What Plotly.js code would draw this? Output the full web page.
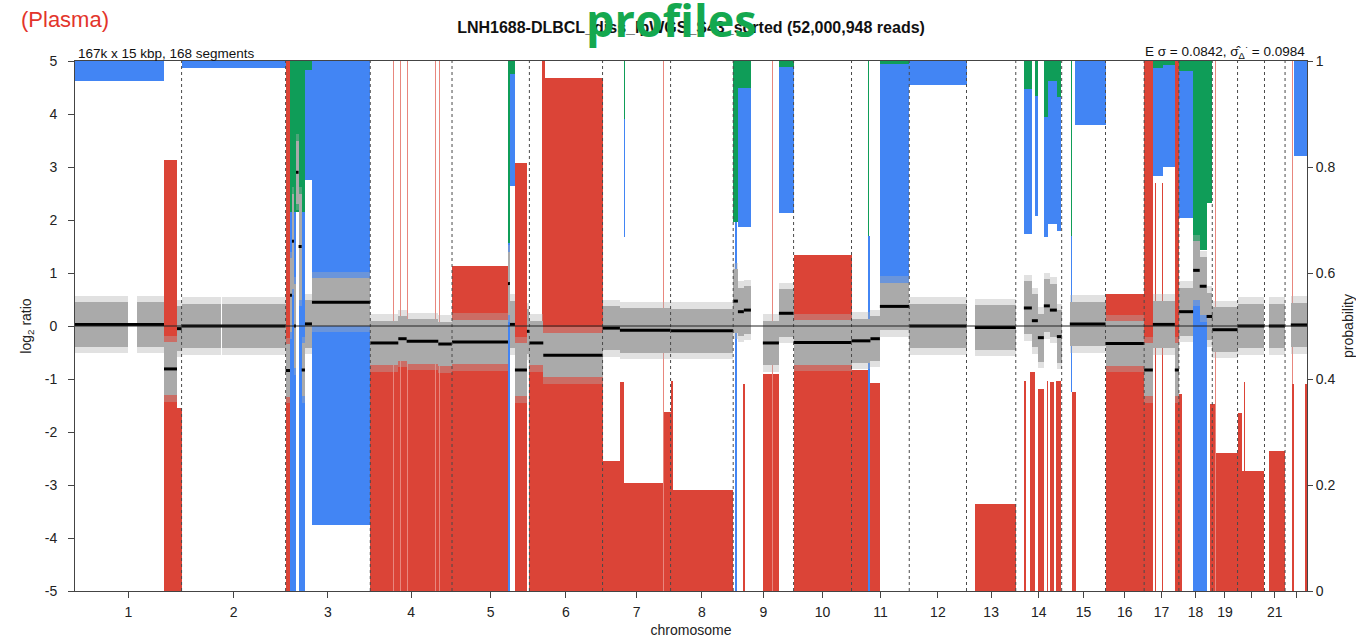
<!DOCTYPE html>
<html>
<head>
<meta charset="utf-8">
<script src="https://cdn.plot.ly/plotly-3.0.1.min.js"></script>
<style>
html,body{margin:0;padding:0;background:#ffffff;}
#chart{width:1356px;height:642px;}
</style>
</head>
<body>
<div id="chart"></div>
<script>
// ---------- chromosomes (hg19, Mb) ----------
const chromNames = ['1','2','3','4','5','6','7','8','9','10','11','12','13','14','15','16','17','18','19','20','21','22'];
const chromLengthsMb = [249.25,243.2,198.0,191.15,180.9,171.1,159.1,146.4,141.2,135.5,135.0,133.85,115.2,107.35,102.5,90.35,81.2,78.1,59.1,63.0,48.1,51.3];
const chromTickText = ['1','2','3','4','5','6','7','8','9','10','11','12','13','14','15','16','17','18','19','','21',''];

// ---------- loss probability bars (red, from 0 up), genome position in Mb ----------
const lossStart = [208.1,238.5,492.45,690.45,743.0,759.9,775.5,841.7,852.2,881.6,1028.7,1062.5,1091.8,1091.8,1233.6,1274.2,1283.6,1374.8,1374.8,1392.7,1398.1,1561.8,1608.5,1629.6,1680.3,1815.8,1858.7,2104.2,2219.5,2232.8,2250.7,2271.8,2279.6,2293.0,2331.7,2409.7,2500.05,2525.0,2541.4,2571.8,2581.25,2655.0,2665.7,2668.7,2718.45,2728.4,2733.1,2791.6,2844.9,2844.9,2876.5];
const lossEnd   = [238.5,249.25,502.7,881.6,745.3,762.2,777.8,844.0,854.5,1012.4,1056.8,1091.8,1233.6,1098.9,1274.2,1283.6,1374.8,1392.7,1377.1,1398.1,1539.1,1566.5,1646.0,1632.0,1815.8,1854.0,1882.1,2199.85,2222.8,2243.7,2265.5,2275.6,2289.7,2304.6,2339.6,2500.05,2520.4,2527.4,2543.7,2581.25,2587.5,2668.7,2668.0,2718.45,2728.4,2781.45,2735.5,2829.55,2847.2,2849.7,2880.85];
const lossProb  = [0.813,0.345,1.0,0.44,1.0,1.0,1.0,1.0,1.0,0.614,0.808,0.44,0.967,1.0,0.246,0.394,0.204,0.338,1.0,0.397,0.19,0.39,0.409,1.0,0.634,0.417,0.392,0.164,0.397,0.414,0.382,0.397,0.394,0.397,0.375,0.561,1.0,0.77,0.77,1.0,0.371,0.352,1.0,0.261,0.335,0.227,0.394,0.264,1.0,0.39,0.39];

// ---------- gain probability bars (blue) ----------
const gainStart = [0,249.25,502.7,522.8,537.7,554.1,1012.4,1017.0,1283.6,1542.9,1550.1,1646.0,1854.0,1882.1,1950.8,2219.5,2244.5,2265.5,2275.6,2295.2,2328.6,2338.0,2521.2,2544.6,2581.25,2614.6,2849.3];
const gainEnd   = [208.1,492.45,516.7,537.7,554.1,690.45,1017.0,1028.7,1285.9,1549.1,1580.5,1680.3,1858.7,1950.8,2084.65,2238.2,2250.7,2275.6,2295.2,2304.6,2331.7,2409.7,2544.6,2572.0,2614.6,2646.0,2880.5];
const gainLow   = [0.9625,0.987,0,0,0.775,0.125,0,0.764,0.667,0,0.687,0.713,0,0.572,0.954,0.673,0.708,0.667,0.693,0.68,0.375,0.88,0.783,0.80,0.703,0,0.82];
const gainHigh  = [1,1,1,1,1,1,0.657,0.976,0.89,0.696,0.949,0.989,0.67,0.995,1,0.947,0.934,0.894,0.963,0.933,0.67,1,0.986,0.992,0.982,0.565,1];

// ---------- amplification probability bars (green) ----------
const ampStart = [502.7,537.7,1012.4,1012.4,1283.6,1539.1,1550.1,1646.0,1854.0,1882.1,2219.5,2244.5,2265.5,2275.6,2295.2,2328.6,2521.2,2544.6,2581.25,2614.6,2646.0];
const ampEnd   = [537.7,554.1,1028.7,1017.0,1285.9,1550.1,1580.5,1680.3,1856.3,1950.8,2238.2,2250.7,2275.6,2295.2,2304.6,2331.7,2544.6,2572.0,2614.6,2646.0,2659.35];
const ampLow   = [0.716,0.983,0.976,0.657,0.89,0.696,0.949,0.989,0.67,0.995,0.947,0.934,0.894,0.963,0.933,0.67,0.986,0.992,0.982,0.644,0.733];
const ampHigh  = [1,1,1,0.976,1,1,1,1,1,1,1,1,1,1,1,1,1,1,1,1,1];

// ---------- segments (log2 ratio) ----------
const segStart  = [0,208.1,238.5,249.25,492.45,502.7,507.3,512.0,516.7,522.8,530.0,537.7,554.1,690.45,756,775.5,849.5,881.6,1012.4,1017.0,1028.7,1056.8,1062.5,1095,1233.6,1274.2,1392.7,1539.1,1550.1,1564,1608.5,1646.0,1680.3,1815.8,1860,1882.1,1950.8,2104.2,2218.8,2237.5,2251.5,2265.5,2279.6,2295.9,2326.3,2409.7,2500.05,2520.4,2571.8,2581.25,2614.6,2630,2646,2659.35,2718.45,2791.6,2843];
const segEnd    = [208.1,238.5,249.25,492.45,502.7,507.3,512.0,516.7,522.8,530.0,537.7,554.1,690.45,756,775.5,849.5,881.6,1012.4,1017.0,1028.7,1056.8,1062.5,1095,1233.6,1274.2,1392.7,1539.1,1550.1,1564,1580.5,1646.0,1680.3,1815.8,1860,1882.1,1950.8,2084.65,2199.85,2237.5,2251.5,2265.5,2279.6,2295.9,2307.2,2409.7,2500.05,2520.4,2571.8,2581.25,2614.6,2630,2646,2659.35,2718.45,2781.45,2829.55,2880.85];
const segMean   = [0.03,-0.81,-0.05,0.0,-0.84,0.58,1.6,0.0,2.9,1.5,-0.83,0.04,0.45,-0.32,-0.24,-0.29,-0.34,-0.30,0.8,0.03,-0.83,-0.1,-0.32,-0.55,-0.04,-0.08,-0.09,0.47,0.27,0.30,-0.32,0.24,-0.31,-0.28,-0.24,0.37,0.0,-0.03,0.34,0.1,-0.22,0.38,0.3,-0.2,0.04,-0.33,-0.83,0.03,-0.83,0.27,1.05,0.75,0.18,-0.07,0.0,0.0,0.02];
const segSpread = [0.42,0.5,0.42,0.42,0.5,0.7,0.9,0.8,0.6,1.0,0.5,0.45,0.45,0.42,0.42,0.42,0.42,0.42,0.6,0.45,0.5,0.42,0.42,0.42,0.42,0.42,0.42,0.6,0.45,0.45,0.42,0.45,0.42,0.42,0.42,0.45,0.42,0.42,0.5,0.5,0.45,0.5,0.5,0.5,0.42,0.42,0.5,0.45,0.5,0.45,0.55,0.55,0.45,0.42,0.42,0.42,0.42];

// regions without bins (no gray points)
const gapStart = [123.9,341.3];
const gapEnd   = [145.0,343.6];

// bins beyond the plotted range
const outX      = [757.5,1094.2,2539.0];
const outSymbol = ['triangle-down','circle','triangle-down'];

// ---------- derived ----------
const chromStart = [], chromEnd = [];
let acc = 0;
chromLengthsMb.forEach(l => { chromStart.push(acc); acc += l; chromEnd.push(acc); });
const genomeEnd = acc;
const chromCenter = chromStart.map((s,i) => (s + chromEnd[i]) / 2);

const RED = '#db4437', BLUE = '#4285f4', GREEN = '#0f9d58';

function barTrace(starts, ends, lows, highs, color, yaxis) {
  const x=[], w=[], b=[], h=[];
  for (let i=0;i<starts.length;i++){
    x.push((starts[i]+ends[i])/2); w.push(ends[i]-starts[i]);
    b.push(lows[i]); h.push(highs[i]-lows[i]);
  }
  return {type:'bar', x:x, width:w, base:b, y:h, yaxis:yaxis,
    marker:{color:color, line:{width:0}}, hoverinfo:'skip', showlegend:false};
}

const lossColors = lossStart.map((s,i) => (lossProb[i] >= 1 && lossEnd[i]-s < 3) ? '#e8877e' : RED);
const lossTrace = barTrace(lossStart, lossEnd, lossStart.map(()=>0), lossProb, lossColors, 'y');
const gainTrace = barTrace(gainStart, gainEnd, gainLow, gainHigh, BLUE, 'y');
const ampTrace  = barTrace(ampStart, ampEnd, ampLow, ampHigh, GREEN, 'y');

// gray bin clouds per segment, split at gaps
const pieceS=[], pieceE=[], pieceM=[], pieceW=[];
for (let i=0;i<segStart.length;i++){
  let pieces=[[segStart[i], segEnd[i]]];
  for (let g=0; g<gapStart.length; g++){
    const next=[];
    pieces.forEach(p=>{
      if (gapEnd[g] <= p[0] || gapStart[g] >= p[1]) { next.push(p); return; }
      if (gapStart[g] > p[0]) next.push([p[0], gapStart[g]]);
      if (gapEnd[g] < p[1]) next.push([gapEnd[g], p[1]]);
    });
    pieces = next;
  }
  pieces.forEach(p=>{ pieceS.push(p[0]); pieceE.push(p[1]); pieceM.push(segMean[i]); pieceW.push(segSpread[i]); });
}
const outerTrace = barTrace(pieceS, pieceE, pieceM.map((m,i)=>m-pieceW[i]-0.12), pieceM.map((m,i)=>m+pieceW[i]+0.12), 'rgba(175,175,175,0.38)', 'y2');
const innerTrace = barTrace(pieceS, pieceE, pieceM.map((m,i)=>m-pieceW[i]), pieceM.map((m,i)=>m+pieceW[i]), '#aaaaaa', 'y2');

const lx=[], ly=[];
for (let i=0;i<segStart.length;i++){ lx.push(segStart[i], segEnd[i], null); ly.push(segMean[i], segMean[i], null); }
const segTrace = {type:'scatter', mode:'lines', x:lx, y:ly, yaxis:'y2',
  line:{color:'#000000', width:3}, hoverinfo:'skip', showlegend:false};

const outTrace = {type:'scatter', mode:'markers', x:outX, y:outX.map(()=>-5.08), yaxis:'y2', cliponaxis:false,
  marker:{symbol:outSymbol, size:7, color:'#000000'}, hoverinfo:'skip', showlegend:false};

const shapes = chromEnd.slice(0,-1).map(e => ({type:'line', xref:'x', yref:'paper', x0:e, x1:e, y0:0, y1:1,
  line:{color:'#4a4a4a', width:1, dash:'3px,3px'}, layer:'above'}));
shapes.push({type:'line', xref:'paper', yref:'y2', x0:0, x1:1, y0:0, y1:0, line:{color:'#222222', width:1}, layer:'above'});

const FONT = '"Liberation Sans", Arial, Helvetica, sans-serif';
const PL = 75, PR = 1307, PT = 61, PB = 591;
const px2x = p => (p - PL) / (PR - PL);
const px2y = p => (PB - p) / (PB - PT);

const layout = {
  width:1356, height:642,
  margin:{l:75, r:49, t:61, b:51, pad:0},
  paper_bgcolor:'#ffffff', plot_bgcolor:'#ffffff',
  barmode:'overlay', bargap:0, showlegend:false,
  font:{family:FONT, size:14, color:'#222222'},
  title:{text:'<b>LNH1688-DLBCL_diss_lpWGS_S43_sorted (52,000,948 reads)</b>',
    font:{family:FONT, size:16, color:'#111111'}, x:0.5, xref:'paper', xanchor:'center',
    y:1-27/642, yref:'container', yanchor:'middle'},
  xaxis:{range:[0, genomeEnd], tickmode:'array', tickvals:chromCenter, ticktext:chromTickText,
    ticks:'outside', ticklen:6, tickcolor:'#444', tickfont:{size:14}, ticklabelstandoff:2,
    showgrid:false, zeroline:false, showline:true, mirror:true, linecolor:'#444', linewidth:1,
    title:{text:'chromosome', font:{size:14}, standoff:6}},
  yaxis:{range:[0,1], side:'right', tickmode:'array', tickvals:[0,0.2,0.4,0.6,0.8,1],
    ticktext:['0','0.2','0.4','0.6','0.8','1'], ticks:'outside', ticklen:5, tickcolor:'#444', tickfont:{size:14},
    showgrid:false, zeroline:false, showline:true, linecolor:'#444', linewidth:1,
    title:{text:'probability', font:{size:14}, standoff:8}},
  yaxis2:{range:[-5,5], overlaying:'y', side:'left', tickmode:'array',
    tickvals:[-5,-4,-3,-2,-1,0,1,2,3,4,5], ticktext:['-5','-4','-3','-2','-1','0','1','2','3','4','5'],
    ticks:'outside', ticklen:6, tickcolor:'#444', tickfont:{size:14}, ticklabelstandoff:8,
    showgrid:false, zeroline:false, showline:true, linecolor:'#444', linewidth:1,
    title:{text:'log<sub>2</sub> ratio', font:{size:14}, standoff:9}},
  shapes:shapes,
  annotations:[
    {text:'167k x 15 kbp, 168 segments', xref:'paper', yref:'paper', x:0, y:1, xanchor:'left', yanchor:'bottom',
      xshift:1, yshift:-2, showarrow:false, font:{size:13.5, color:'#111'}},
    {text:'E σ = 0.0842, σ\u0302<sub>Δ</sub><sup>·</sup> = 0.0984', xref:'paper', yref:'paper', x:1, y:1,
      xanchor:'right', yanchor:'bottom', yshift:-2, showarrow:false, font:{size:13.5, color:'#111'}},
    {text:'(Plasma)', xref:'paper', yref:'paper', x:px2x(19), y:px2y(19), xanchor:'left', yanchor:'middle',
      showarrow:false, font:{size:22, color:'#e3352b'}},
    {text:'<b>profiles</b>', xref:'paper', yref:'paper', x:px2x(671), y:px2y(19), xanchor:'center', yanchor:'middle',
      showarrow:false, font:{family:'"Open Sans", sans-serif', size:45, color:'#14a84f'}}
  ]
};

Plotly.newPlot('chart', [lossTrace, gainTrace, ampTrace, outerTrace, innerTrace, segTrace, outTrace], layout,
  {displayModeBar:false, staticPlot:true});
</script>
</body>
</html>
